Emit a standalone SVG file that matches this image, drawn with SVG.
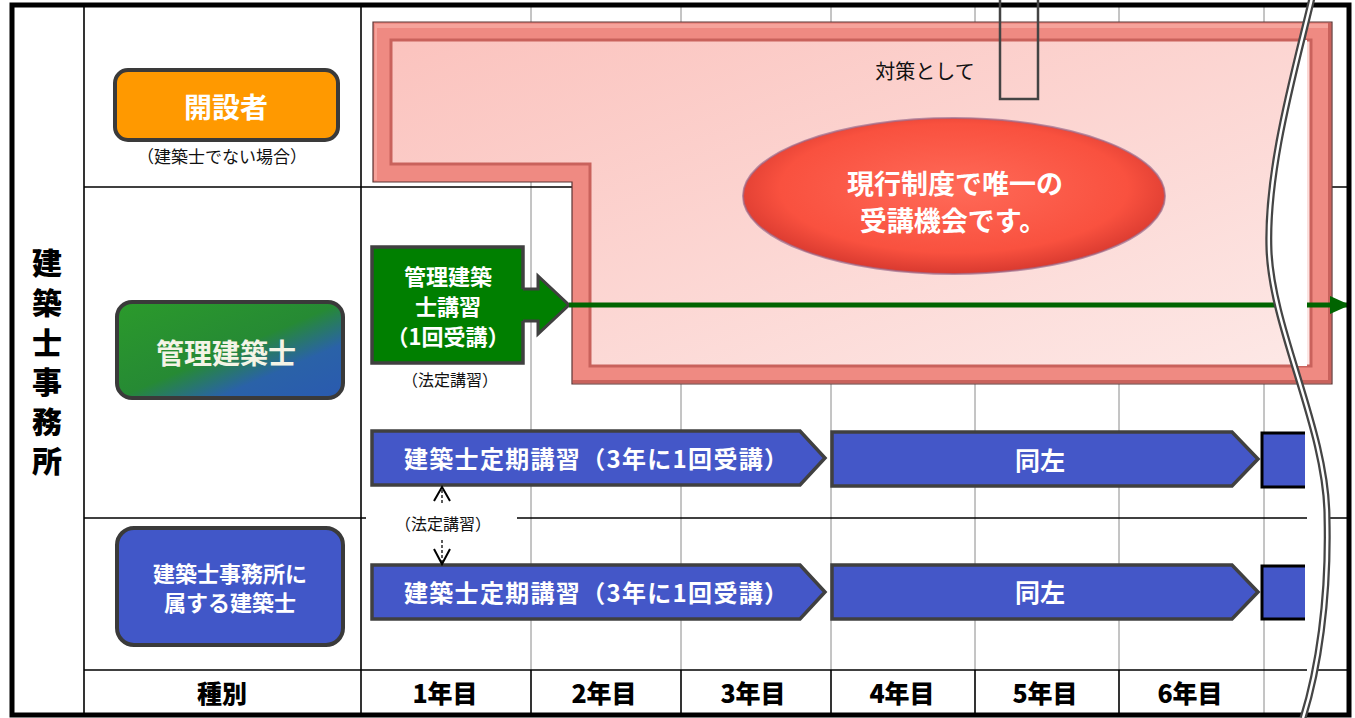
<svg xmlns="http://www.w3.org/2000/svg" width="1355" height="718" viewBox="0 0 1355 718">
<style>
.jp{font-family:'Noto Sans CJK JP','Noto Sans CJK SC',sans-serif;dominant-baseline:central;text-anchor:middle}
.wb{fill:#fff;font-weight:700}
.hv{fill:#000;font-weight:900}
.rg{fill:#111;font-weight:400}
.grid{stroke:#000;stroke-width:1.6}
.ygrid{stroke:#8a8a8a;stroke-width:1}
.bar{fill:#4457c8;stroke:#404040;stroke-width:3.5;stroke-linejoin:miter}
.node{stroke:#3a3a3a;stroke-width:4}
</style>
<defs>
<linearGradient id="pinkIn" x1="0" y1="0" x2="1" y2="1">
<stop offset="0" stop-color="#fbc3be"/>
<stop offset="1" stop-color="#fde8e6"/>
</linearGradient>
<radialGradient id="redEl" cx="0.5" cy="0.45" r="0.55">
<stop offset="0" stop-color="#ff6a58"/>
<stop offset="0.75" stop-color="#f9513f"/>
<stop offset="1" stop-color="#d8392f"/>
</radialGradient>
<linearGradient id="gb" x1="0" y1="0" x2="1" y2="1">
<stop offset="0" stop-color="#2b9a2b"/>
<stop offset="0.5" stop-color="#268a34"/>
<stop offset="0.72" stop-color="#2a62a8"/>
<stop offset="1" stop-color="#2a5ab0"/>
</linearGradient>
<marker id="garrow" markerUnits="userSpaceOnUse" markerWidth="20" markerHeight="18" refX="20" refY="9" orient="auto">
<path d="M0,0 L20,9 L0,18 Z" fill="#006400"/>
</marker>
<clipPath id="breakClip">
<rect x="0" y="40" width="1355" height="326"/>
<rect x="0" y="386" width="1355" height="332"/>
</clipPath>
</defs>

<rect x="0" y="0" width="1355" height="718" fill="#fff"/>

<g id="grid">
<line class="ygrid" x1="531" y1="5" x2="531" y2="670"/>
<line class="ygrid" x1="681" y1="5" x2="681" y2="670"/>
<line class="ygrid" x1="831" y1="5" x2="831" y2="670"/>
<line class="ygrid" x1="975" y1="5" x2="975" y2="670"/>
<line class="ygrid" x1="1119" y1="5" x2="1119" y2="670"/>
<line class="ygrid" x1="1264" y1="5" x2="1264" y2="715"/>
<line class="grid" x1="531" y1="670" x2="531" y2="715"/>
<line class="grid" x1="681" y1="670" x2="681" y2="715"/>
<line class="grid" x1="831" y1="670" x2="831" y2="715"/>
<line class="grid" x1="975" y1="670" x2="975" y2="715"/>
<line class="grid" x1="1119" y1="670" x2="1119" y2="715"/>
<line class="grid" x1="84" y1="5" x2="84" y2="715"/>
<line class="grid" x1="361" y1="5" x2="361" y2="715"/>
<line class="grid" x1="84" y1="187" x2="1349" y2="187"/>
<line class="grid" x1="84" y1="518" x2="1349" y2="518"/>
<line class="grid" x1="84" y1="670" x2="1349" y2="670"/>
</g>

<g id="office-label">
<text x="47" y="248" font-family="'Noto Sans CJK JP','Noto Sans CJK SC',sans-serif" font-size="30" font-weight="900" fill="#000" writing-mode="vertical-rl" letter-spacing="9.6">建築士事務所</text>
</g>

<g id="header-row">
<text class="jp hv" x="222" y="692" font-size="25">種別</text>
<text class="jp hv" x="445" y="692" font-size="25">1年目</text>
<text class="jp hv" x="604" y="692" font-size="25">2年目</text>
<text class="jp hv" x="753" y="692" font-size="25">3年目</text>
<text class="jp hv" x="902" y="692" font-size="25">4年目</text>
<text class="jp hv" x="1045" y="692" font-size="25">5年目</text>
<text class="jp hv" x="1190" y="692" font-size="25">6年目</text>
</g>

<g id="opener">
<rect class="node" x="115" y="70" width="223" height="70" rx="13" fill="#ff9900"/>
<text class="jp wb" x="226" y="106" font-size="28">開設者</text>
<text class="jp rg" x="222" y="155" font-size="17">（建築士でない場合）</text>
</g>

<g id="manager">
<rect class="node" x="117" y="302" width="226" height="96" rx="15" fill="url(#gb)"/>
<text class="jp" x="226" y="352" font-size="28" fill="#f4f4e6" font-weight="700">管理建築士</text>
</g>

<g id="member">
<rect class="node" x="117" y="528" width="226" height="117" rx="17" fill="#4157c8"/>
<text class="jp wb" x="230" y="572" font-size="22">建築士事務所に</text>
<text class="jp wb" x="230" y="601" font-size="22">属する建築士</text>
</g>

<g id="current-system">
<path d="M373,22 H1332 V384 H572 V182 H373 Z" fill="#ef8a82" stroke="#5a3434" stroke-width="1.2"/>
<path d="M375,24 H1330 V28 H377 V180 H374 Z" fill="#f6a39b"/>
<path d="M1331,23 V383 H573 V380 H1328 V23 Z" fill="#c9625c"/>
<path d="M391,40 H1311 V366 H590 V164 H391 Z" fill="url(#pinkIn)" stroke="#c9625c" stroke-width="3"/>
<text class="jp rg" x="925" y="70" font-size="20">対策として</text>
<ellipse cx="954" cy="196" rx="211" ry="78" fill="url(#redEl)" stroke="#9b6b8c" stroke-width="2" stroke-opacity="0.7"/>
<text class="jp wb" x="955" y="182" font-size="27">現行制度で唯一の</text>
<text class="jp wb" x="953" y="219" font-size="27">受講機会です。</text>
</g>

<g id="manager-course">
<rect x="372" y="247" width="151" height="116" fill="#007f00" stroke="#404040" stroke-width="3.5"/>
<polygon points="520,289 538,289 538,276 569,305 538,334 538,321 520,321" fill="#007f00"/>
<polyline points="523,289 538,289 538,276 569,305 538,334 538,321 523,321" fill="none" stroke="#404040" stroke-width="3"/>
<text class="jp wb" x="448" y="275" font-size="22">管理建築</text>
<text class="jp wb" x="448" y="305" font-size="22">士講習</text>
<text class="jp wb" x="448" y="335" font-size="22">（1回受講）</text>
<text class="jp rg" x="450" y="379" font-size="16">（法定講習）</text>
</g>

<g id="periodic-1">
<path class="bar" d="M372,431 H800 L825,458 L800,485 H372 Z"/>
<text class="jp wb" x="596" y="457" font-size="24" textLength="384">建築士定期講習（3年に1回受講）</text>
<path class="bar" d="M832,432 H1232 L1258,459 L1232,486 H832 Z"/>
<text class="jp wb" x="1040" y="459" font-size="25">同左</text>
<rect x="1262" y="433" width="43" height="54" fill="#4457c8"/>
<path d="M1305,433 H1262 V487 H1305" fill="none" stroke="#000" stroke-width="3"/>
</g>

<g id="periodic-2">
<path class="bar" d="M372,565 H800 L825,592 L800,619 H372 Z"/>
<text class="jp wb" x="596" y="591" font-size="24" textLength="384">建築士定期講習（3年に1回受講）</text>
<path class="bar" d="M832,565 H1232 L1258,592 L1232,619 H832 Z"/>
<text class="jp wb" x="1040" y="591" font-size="25">同左</text>
<rect x="1262" y="566" width="43" height="53" fill="#4457c8"/>
<path d="M1305,566 H1262 V619 H1305" fill="none" stroke="#000" stroke-width="3"/>
</g>

<g id="legal-label">
<rect x="366" y="500" width="151" height="37" fill="#fff"/>
<text class="jp rg" x="443" y="523" font-size="16">（法定講習）</text>
</g>

<g id="connectors">
<line x1="569" y1="305" x2="1350" y2="305" stroke="#006400" stroke-width="5" marker-end="url(#garrow)"/>
<line x1="442" y1="503" x2="442" y2="489" stroke="#333" stroke-width="1.6" stroke-dasharray="3 2"/>
<polyline points="434,501 442,487 450,501" fill="none" stroke="#000" stroke-width="2"/>
<line x1="442" y1="540" x2="442" y2="562" stroke="#333" stroke-width="1.6" stroke-dasharray="3 2"/>
<polyline points="434,549 442,564 450,549" fill="none" stroke="#000" stroke-width="2"/>
</g>

<g id="break">
<path d="M1312,-2 C1295,70 1266,170 1269,250 C1272,330 1327,430 1327,518 C1329,600 1318,670 1303,718 L1307,718 L1307,-2 Z" fill="#fff" clip-path="url(#breakClip)"/>
</g>

<rect id="frame" x="12" y="5" width="1337" height="710" fill="none" stroke="#000" stroke-width="5"/>

<g id="wave">
<path d="M1312,-2 C1295,70 1266,170 1269,250 C1272,330 1327,430 1327,518 C1329,600 1318,670 1303,718" fill="none" stroke="#454545" stroke-width="7"/>
<path d="M1312,-2 C1295,70 1266,170 1269,250 C1272,330 1327,430 1327,518 C1329,600 1318,670 1303,718" fill="none" stroke="#fff" stroke-width="2.5"/>
</g>

<rect id="measure-box" x="1000" y="-5" width="38" height="104" fill="none" stroke="#444" stroke-width="2.5"/>
</svg>
